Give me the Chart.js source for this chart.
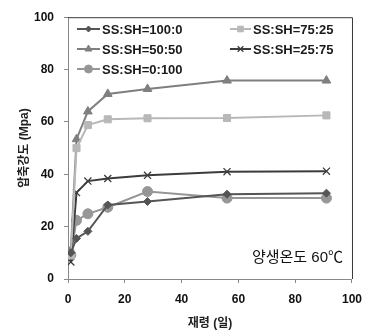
<!DOCTYPE html>
<html><head><meta charset="utf-8">
<script src="https://cdn.jsdelivr.net/npm/chart.js@4"></script>
<style>html,body{margin:0;padding:0;background:#fff}#w{width:371px;height:335px}</style>
</head><body><div id="w"><canvas id="c" width="371" height="335"></canvas></div>
<script>
const ages = [1, 3, 7, 14, 28, 56, 91];
const seriesNames = ['SS:SH=100:0', 'SS:SH=75:25', 'SS:SH=50:50', 'SS:SH=25:75', 'SS:SH=0:100'];
const s100_0 = [10, 15.5, 18.2, 28.3, 29.6, 32.4, 32.8];
const s75_25 = [9, 50, 58.8, 61, 61.4, 61.5, 62.5];
const s50_50 = [11, 53.4, 64, 70.7, 72.6, 75.8, 75.8];
const s25_75 = [6.5, 33, 37.4, 38.4, 39.6, 41, 41.2];
const s0_100 = [9.2, 22.4, 24.9, 27.4, 33.4, 30.9, 30.9];
const xTicks = [0, 20, 40, 60, 80, 100];
const yTicks = [0, 20, 40, 60, 80, 100];
const xTitle = '재령 (일)';
const yTitle = '압축강도 (Mpa)';
const note = '양생온도 60℃';

const FONT = "'Liberation Sans', Arial, 'Noto Sans CJK KR', sans-serif";
const colors = ['#555555', '#b8b8b8', '#7f7f7f', '#3c3c3c', '#969696'];
const styles = ['rectRot', 'rect', 'triangle', 'crossRot', 'circle'];
const radii = [4, 5, 5, 5, 5];
const vals = [s100_0, s75_25, s50_50, s25_75, s0_100];

const datasets = vals.map((v, i) => ({
  label: seriesNames[i],
  data: ages.map((a, j) => ({x: a, y: v[j]})),
  borderColor: colors[i],
  backgroundColor: colors[i],
  pointStyle: styles[i],
  pointRadius: radii[i],
  pointBorderWidth: styles[i] === 'crossRot' ? 1.3 : 1,
  borderWidth: 2,
  tension: 0,
}));

const overlay = {
  id: 'overlay',
  afterDraw(chart) {
    const ctx = chart.ctx, a = chart.chartArea;
    ctx.save();
    ctx.strokeStyle = '#3a3a3a'; ctx.lineWidth = 1;
    ctx.beginPath();
    ctx.moveTo(a.left, a.top + 0.5); ctx.lineTo(a.right + 0.5, a.top + 0.5); ctx.lineTo(a.right + 0.5, a.bottom);
    ctx.stroke();
    const cols = [[77, 102], [230, 253]];
    const rows = [29, 49, 69];
    ctx.font = 'bold 13px ' + FONT;
    ctx.textBaseline = 'middle';
    seriesNames.forEach((n, i) => {
      const c = cols[i % 2], y = rows[Math.floor(i / 2)];
      ctx.strokeStyle = colors[i]; ctx.fillStyle = colors[i]; ctx.lineWidth = 2;
      ctx.beginPath(); ctx.moveTo(c[0], y); ctx.lineTo(c[1] - 2, y); ctx.stroke();
      const px = (c[0] + c[1] - 2) / 2;
      ctx.lineWidth = datasets[i].pointBorderWidth;
      Chart.helpers.drawPoint(ctx, {pointStyle: styles[i], radius: radii[i] - 1, borderWidth: datasets[i].pointBorderWidth}, px, y);
      ctx.fillStyle = '#1a1a1a';
      ctx.fillText(n, c[1], y + 1);
    });
    ctx.font = '15px ' + FONT;
    ctx.fillStyle = '#111';
    ctx.textAlign = 'right';
    ctx.fillText(note, 343, 258);
    // y axis title
    ctx.save();
    ctx.translate(25, (a.top + a.bottom) / 2);
    ctx.rotate(-Math.PI / 2);
    ctx.textAlign = 'center';
    ctx.textBaseline = 'middle';
    ctx.font = 'bold 12px ' + FONT;
    ctx.fillStyle = '#222';
    ctx.fillText(yTitle, 0, 0);
    ctx.restore();
    ctx.restore();
  }
};

new Chart(document.getElementById('c'), {
  type: 'line',
  data: {datasets},
  options: {
    responsive: false,
    animation: false,
    devicePixelRatio: 1,
    layout: {padding: {top: 14, right: 17, left: 0, bottom: 0}},
    plugins: {legend: {display: false}, tooltip: {enabled: false}},
    scales: {
      x: {
        type: 'linear', min: 0, max: 100,
        afterFit(s) { s.height = 56; },
        afterBuildTicks(s) { s.ticks = xTicks.map(v => ({value: v})); },
        grid: {display: true, drawOnChartArea: false, drawTicks: true, tickLength: 4, color: '#888'},
        border: {color: '#888', width: 1},
        ticks: {color: '#111', font: {family: FONT, size: 12, weight: 'bold'}, padding: 9, maxRotation: 0},
        title: {display: true, text: xTitle, color: '#222', font: {family: FONT, size: 12, weight: 'bold'}, padding: {top: 8}}
      },
      y: {
        min: 0, max: 100,
        afterFit(s) { s.width = 68; },
        afterBuildTicks(s) { s.ticks = yTicks.map(v => ({value: v})); },
        grid: {display: true, drawOnChartArea: false, drawTicks: true, tickLength: 4, color: '#888'},
        border: {color: '#888', width: 1},
        ticks: {color: '#111', font: {family: FONT, size: 12, weight: 'bold'}, padding: 10},
        title: {display: false}
      }
    }
  },
  plugins: [overlay]
});
</script></body></html>
